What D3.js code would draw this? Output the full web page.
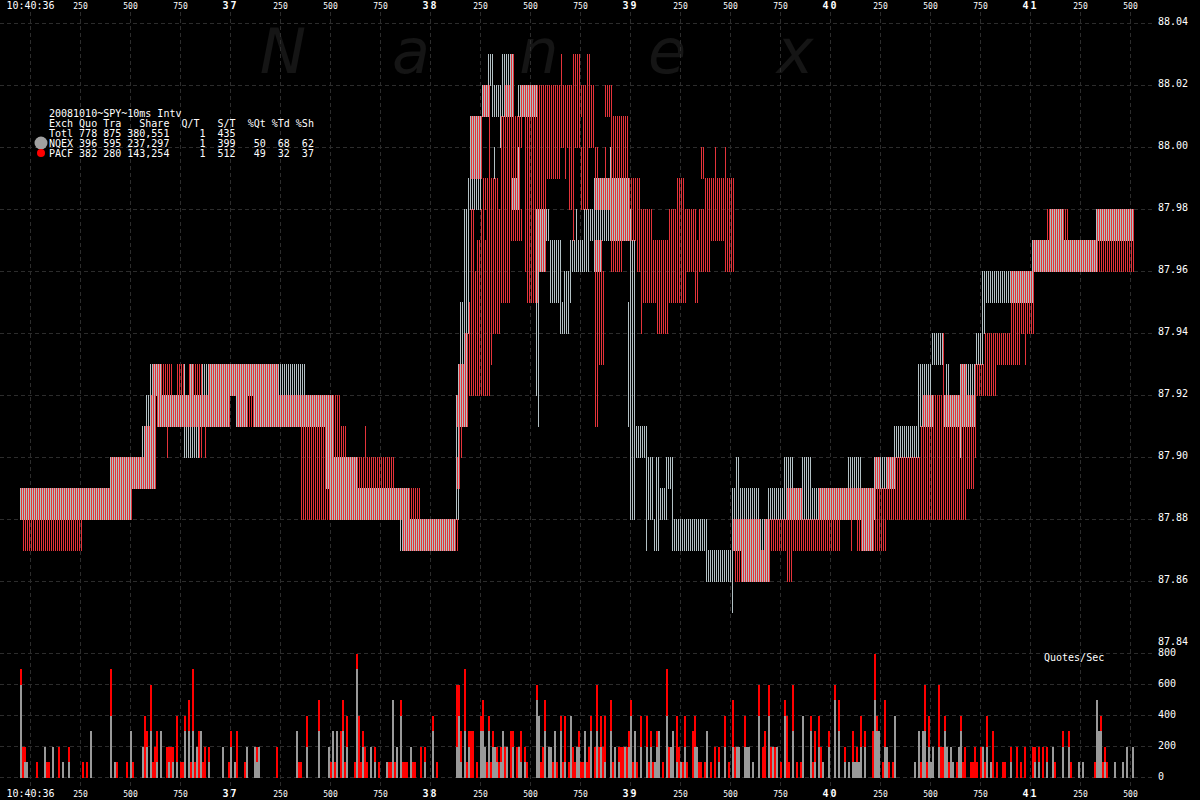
<!DOCTYPE html>
<html><head><meta charset="utf-8">
<script src="https://cdn.jsdelivr.net/npm/d3@7"></script>
<style>
html,body{margin:0;padding:0;background:#000;overflow:hidden}
svg{display:block}
text{font-family:"DejaVu Sans Mono",monospace;fill:#fff}
</style></head><body>
<script>
// ---- data ----------------------------------------------------------------
// quote ranges: [first 10ms bin, end bin, low price, high price]; bin 15 = 10:40:36.000
const nqexRanges=[[10,66,87.88,87.89],[55,78,87.89,87.90],[71,78,87.90,87.91],[73,78,87.91,87.92],[75,81,87.92,87.93],[92,93,87.92,87.93],[95,97,87.92,87.93],[101,153,87.92,87.93],[79,115,87.91,87.92],[118,124,87.91,87.92],[127,167,87.91,87.92],[92,100,87.90,87.91],[163,167,87.90,87.91],[163,179,87.89,87.90],[165,205,87.88,87.89],[200,228,87.87,87.88],[228,230,87.88,87.92],[228,234,87.91,87.92],[229,232,87.92,87.93],[230,232,87.93,87.95],[232,234,87.92,87.98],[232,235,87.94,87.98],[234,241,87.98,87.99],[235,241,87.99,88.01],[241,245,88.01,88.02],[247,248,87.99,88.00],[244,247,88.02,88.03],[251,257,88.02,88.03],[246,252,88.01,88.02],[252,257,88.01,88.02],[250,251,88.00,88.01],[256,260,87.98,87.99],[259,260,87.99,88.00],[259,269,88.01,88.02],[268,275,87.97,87.98],[268,273,87.96,87.98],[268,269,87.92,87.96],[269,270,87.91,87.96],[275,281,87.95,87.97],[282,286,87.95,87.96],[280,285,87.94,87.95],[285,295,87.96,87.97],[288,289,87.97,87.98],[292,316,87.97,87.98],[297,315,87.98,87.99],[297,301,87.96,87.97],[305,306,87.99,88.00],[315,318,87.88,87.97],[314,315,87.91,87.95],[318,324,87.90,87.91],[323,327,87.88,87.90],[323,324,87.87,87.88],[328,330,87.88,87.90],[327,330,87.87,87.88],[330,334,87.88,87.89],[333,337,87.89,87.90],[336,337,87.88,87.89],[336,354,87.87,87.88],[353,367,87.86,87.87],[366,367,87.85,87.87],[366,380,87.88,87.89],[368,370,87.89,87.90],[366,380,87.87,87.88],[371,385,87.86,87.87],[381,383,87.87,87.88],[384,385,87.88,87.89],[382,385,87.87,87.88],[380,384,87.86,87.88],[384,394,87.88,87.89],[393,401,87.88,87.89],[400,410,87.88,87.89],[409,438,87.88,87.89],[392,397,87.89,87.90],[401,406,87.89,87.90],[424,431,87.89,87.90],[431,437,87.87,87.88],[437,448,87.89,87.90],[447,460,87.90,87.91],[459,466,87.92,87.93],[459,467,87.91,87.92],[472,488,87.91,87.92],[480,481,87.90,87.91],[466,472,87.93,87.94],[473,475,87.92,87.93],[480,488,87.92,87.93],[488,492,87.93,87.94],[491,493,87.94,87.95],[491,517,87.95,87.96],[516,549,87.96,87.97],[548,567,87.97,87.98],[525,532,87.97,87.98]];
const pacfRanges=[[10,66,87.88,87.89],[11,41,87.87,87.88],[55,78,87.89,87.90],[72,78,87.90,87.91],[75,78,87.91,87.92],[76,81,87.92,87.93],[81,86,87.92,87.93],[88,92,87.92,87.93],[94,101,87.92,87.93],[104,139,87.92,87.93],[78,80,87.91,87.92],[79,115,87.91,87.92],[118,124,87.91,87.92],[123,128,87.91,87.92],[127,170,87.91,87.92],[83,84,87.90,87.91],[99,101,87.90,87.91],[102,103,87.90,87.91],[150,167,87.90,87.91],[166,173,87.90,87.91],[182,183,87.90,87.91],[150,163,87.89,87.90],[163,197,87.89,87.90],[150,165,87.88,87.89],[165,210,87.88,87.89],[201,229,87.87,87.88],[228,230,87.89,87.90],[229,230,87.89,87.93],[228,234,87.91,87.92],[229,232,87.92,87.93],[230,231,87.90,87.91],[232,245,87.92,87.94],[245,246,87.93,87.94],[234,250,87.94,87.95],[235,255,87.95,87.96],[238,255,87.96,87.97],[235,237,87.96,87.98],[240,242,87.97,87.98],[243,261,87.97,87.98],[235,241,87.99,88.01],[241,245,88.01,88.02],[241,245,87.98,87.99],[244,245,87.99,88.01],[245,249,87.98,87.99],[255,257,88.02,88.03],[252,257,88.01,88.02],[250,261,88.00,88.01],[250,260,87.98,88.00],[262,269,87.98,88.01],[260,269,88.01,88.02],[269,297,88.01,88.02],[269,290,88.00,88.01],[291,297,88.00,88.01],[269,280,87.99,88.00],[282,283,87.99,88.00],[284,287,87.98,88.00],[290,294,87.98,88.00],[293,294,87.98,87.99],[269,273,87.98,87.99],[280,281,88.02,88.03],[286,290,88.02,88.03],[293,295,88.02,88.03],[302,306,88.01,88.02],[305,314,87.99,88.01],[297,299,87.99,88.00],[302,303,87.99,88.00],[297,320,87.98,87.99],[306,326,87.97,87.98],[334,347,87.97,87.98],[349,367,87.97,87.98],[338,342,87.98,87.99],[350,352,87.99,88.00],[357,358,87.99,88.00],[362,363,87.99,88.00],[352,367,87.98,87.99],[268,273,87.97,87.98],[262,269,87.96,87.98],[268,273,87.96,87.98],[263,269,87.95,87.96],[286,287,87.97,87.98],[297,301,87.96,87.97],[297,302,87.93,87.96],[297,299,87.91,87.93],[305,311,87.96,87.98],[318,343,87.96,87.97],[320,343,87.95,87.96],[320,321,87.94,87.95],[328,334,87.94,87.95],[334,348,87.96,87.98],[347,349,87.95,87.96],[347,355,87.96,87.97],[362,367,87.96,87.97],[366,380,87.87,87.88],[367,385,87.86,87.87],[382,385,87.87,87.88],[380,384,87.86,87.87],[384,385,87.86,87.87],[384,420,87.87,87.88],[393,396,87.86,87.87],[393,401,87.88,87.89],[409,438,87.88,87.89],[425,426,87.87,87.88],[428,443,87.87,87.88],[437,440,87.89,87.90],[443,448,87.89,87.90],[437,483,87.88,87.89],[447,487,87.89,87.90],[460,488,87.90,87.91],[461,488,87.91,87.92],[471,472,87.92,87.93],[471,472,87.93,87.94],[480,483,87.92,87.93],[487,498,87.92,87.93],[492,510,87.93,87.94],[512,513,87.93,87.94],[505,517,87.95,87.96],[505,517,87.94,87.95],[516,567,87.96,87.97],[548,567,87.97,87.98],[523,534,87.97,87.98]];
// quotes/sec per 10ms bin: [bin, NQEX, PACF]
const quoteRates=[[10,600,100],[11,0,200],[12,100,100],[13,100,0],[18,0,100],[22,200,0],[23,0,100],[24,0,100],[26,200,0],[29,0,200],[31,100,0],[34,100,100],[41,0,100],[43,0,100],[45,300,0],[55,400,300],[57,100,0],[58,0,100],[63,0,100],[65,300,0],[66,0,100],[71,200,0],[72,0,400],[73,200,100],[75,300,300],[76,0,100],[77,0,200],[78,100,200],[80,300,0],[83,0,200],[84,100,100],[85,0,200],[86,100,100],[88,100,300],[90,0,100],[91,0,100],[92,300,100],[94,300,200],[95,0,100],[96,300,400],[97,0,100],[98,200,0],[99,0,300],[100,300,0],[101,0,100],[102,0,200],[104,100,100],[111,200,0],[114,0,100],[115,200,100],[117,100,0],[118,0,300],[122,0,100],[123,200,0],[127,200,0],[128,100,100],[129,200,0],[138,0,200],[148,300,0],[149,0,100],[150,0,100],[153,200,200],[159,300,200],[164,200,0],[165,0,100],[166,300,0],[167,0,100],[168,300,0],[170,0,300],[171,300,200],[172,0,100],[173,200,200],[177,0,100],[178,700,100],[179,0,400],[180,0,100],[181,200,100],[182,0,200],[183,0,100],[185,200,0],[187,100,100],[189,0,100],[193,100,0],[194,0,100],[195,0,100],[196,500,0],[197,0,100],[198,200,0],[200,400,100],[201,0,100],[202,0,100],[203,0,100],[205,200,0],[206,0,100],[207,0,100],[210,0,200],[212,100,100],[216,300,100],[218,0,100],[228,200,400],[229,400,200],[230,100,200],[232,300,400],[233,0,100],[234,200,100],[235,0,300],[236,0,300],[238,0,100],[240,300,100],[241,300,200],[242,200,0],[243,0,100],[244,300,100],[245,0,100],[246,200,100],[247,200,0],[248,100,100],[249,0,100],[250,100,100],[251,300,0],[252,0,200],[253,200,0],[255,0,300],[256,200,100],[258,0,200],[259,200,0],[260,100,200],[262,100,100],[263,0,100],[268,500,100],[269,400,0],[270,0,100],[271,0,200],[272,300,200],[274,200,0],[275,200,0],[276,0,100],[277,300,0],[278,0,100],[280,300,100],[281,0,100],[282,100,300],[284,0,100],[285,400,0],[286,0,200],[287,0,100],[288,200,0],[289,200,100],[290,0,100],[291,0,100],[292,300,0],[293,0,100],[294,0,200],[295,300,100],[297,0,200],[298,300,300],[299,0,200],[300,200,200],[301,0,200],[302,100,300],[305,300,200],[306,0,100],[307,200,0],[309,100,100],[310,0,200],[311,0,200],[312,200,0],[313,0,200],[314,200,100],[315,400,100],[316,0,100],[317,300,0],[318,0,100],[320,200,200],[323,200,200],[324,0,100],[325,200,100],[326,0,100],[327,100,0],[328,200,100],[329,300,0],[331,0,100],[333,400,300],[334,0,200],[335,200,0],[336,300,0],[338,100,300],[339,0,200],[340,100,0],[341,0,100],[342,200,200],[343,0,100],[346,0,300],[347,200,200],[348,200,0],[349,0,100],[350,0,100],[352,0,100],[353,300,0],[355,0,100],[357,0,200],[359,100,100],[362,200,200],[364,0,100],[366,200,300],[367,0,200],[368,200,0],[369,200,0],[372,200,200],[373,200,0],[374,200,0],[376,100,0],[379,400,200],[381,0,200],[382,0,300],[384,400,200],[385,0,200],[386,200,0],[387,0,200],[388,200,0],[390,0,100],[392,400,100],[393,0,400],[394,0,100],[396,300,300],[398,0,100],[400,0,100],[401,400,0],[405,300,100],[406,0,100],[407,100,200],[409,200,200],[410,0,200],[411,100,0],[414,200,100],[417,500,100],[419,300,200],[422,100,100],[424,100,0],[426,100,200],[427,100,0],[428,100,100],[429,100,0],[430,200,200],[432,200,100],[436,0,300],[437,500,300],[438,300,100],[439,300,0],[441,0,100],[442,200,300],[443,200,0],[444,0,100],[446,0,100],[447,400,0],[457,100,0],[459,300,0],[460,0,100],[461,300,0],[462,300,300],[463,0,100],[464,200,200],[465,100,0],[466,200,0],[469,200,400],[470,0,200],[471,0,200],[472,300,100],[473,200,0],[474,0,100],[475,200,0],[476,100,0],[478,0,100],[479,200,0],[480,300,100],[481,0,100],[482,0,200],[485,0,100],[486,0,100],[487,0,200],[488,0,100],[490,0,200],[491,200,0],[492,0,100],[493,200,200],[495,100,0],[496,0,300],[498,0,100],[501,0,100],[502,0,100],[505,100,100],[508,0,200],[510,0,100],[512,0,200],[516,0,200],[517,100,100],[519,100,100],[521,0,200],[523,100,100],[526,200,0],[527,0,100],[531,200,100],[534,200,100],[535,0,100],[539,100,0],[541,100,0],[547,0,100],[548,500,0],[549,300,0],[550,300,100],[551,0,100],[552,100,100],[553,0,100],[557,100,0],[561,100,0],[563,200,0],[566,200,0]];
const priceTicks=[88.04,88.02,88.00,87.98,87.96,87.94,87.92,87.90,87.88,87.86,87.84];
const rateTicks=[800,600,400,200,0];
const timeTicks=["10:40:36","250","500","750","37","250","500","750","38","250","500","750","39","250","500","750","40","250","500","750","41","250","500"];
const watermark=["N","a","n","e","x"];
const statsRows=["20081010~SPY~10ms Intv","Exch Quo Tra   Share  Q/T   S/T  %Qt %Td %Sh","Totl 778 875 380,551     1  435","NQEX 396 595 237,297     1  399   50  68  62","PACF 382 280 143,254     1  512   49  32  37"];

// ---- scales ---------------------------------------------------------------
const msPerBin=10, firstBin=15;
const binMs=b=>(b-firstBin)*msPerBin;
const x=d3.scaleLinear().domain([0,5500]).range([30,1130]);
const price=d3.scaleLinear().domain([87.84,88.04]).range([643.5,23.5]);
const rate=d3.scaleLinear().domain([0,800]).range([777.5,653.5]);
const colors={gray:"#b2c0c4",red:"#e4333a",barGray:"#999999",barRed:"#ff0000",grid:"#2c2c2c"};

const svg=d3.select("body").append("svg").attr("width",1200).attr("height",800).style("background","#000");

// watermark
svg.append("g").selectAll("text").data(watermark).join("text")
  .attr("x",(d,i)=>x(1265+i*640))
  .attr("y",73)
  .attr("text-anchor","middle")
  .style("font-family",'"DejaVu Sans",sans-serif').style("font-style","italic")
  .style("font-size","62px").style("fill","#151515").text(d=>d);

// grid
const grid=svg.append("g").attr("shape-rendering","crispEdges").attr("stroke",colors.grid).attr("stroke-dasharray","4 3");
grid.selectAll(".v").data(d3.range(0,5501,250)).join("line").attr("class","v")
  .attr("x1",d=>x(d)+.5).attr("x2",d=>x(d)+.5).attr("y1",12).attr("y2",798);
grid.selectAll(".h").data(priceTicks.filter(p=>p>87.85)).join("line").attr("class","h")
  .attr("x1",0).attr("x2",1155).attr("y1",d=>price(d)).attr("y2",d=>price(d));
grid.selectAll(".r").data(rateTicks).join("line").attr("class","r")
  .attr("x1",0).attr("x2",1155).attr("y1",d=>rate(d)).attr("y2",d=>rate(d));

// quote-range stripes: one vertical hairline per 10ms bin per exchange
function stripes(ranges,color,offset){
  const lines=ranges.flatMap(([b0,b1,lo,hi])=>d3.range(b0,b1).map(b=>({b,lo,hi})));
  svg.append("g").attr("shape-rendering","crispEdges").selectAll("rect").data(lines).join("rect")
    .attr("x",d=>x(binMs(d.b))+offset).attr("width",1)
    .attr("y",d=>Math.floor(price(d.hi)))
    .attr("height",d=>Math.ceil(price(d.lo))-Math.floor(price(d.hi)))
    .attr("fill",color);
}
stripes(nqexRanges,colors.gray,0);
stripes(pacfRanges,colors.red,1);

// quotes/sec bars, stacked
const bars=svg.append("g").attr("shape-rendering","crispEdges");
const barW=x(msPerBin)-x(0);
bars.selectAll(".g").data(quoteRates.filter(d=>d[1]>0)).join("rect").attr("class","g")
  .attr("x",d=>x(binMs(d[0]))).attr("width",barW)
  .attr("y",d=>rate(d[1])).attr("height",d=>rate(0)-rate(d[1])+.5).attr("fill",colors.barGray);
bars.selectAll(".p").data(quoteRates.filter(d=>d[2]>0)).join("rect").attr("class","p")
  .attr("x",d=>x(binMs(d[0]))).attr("width",barW)
  .attr("y",d=>rate(d[1]+d[2])).attr("height",d=>rate(d[1])-rate(d[1]+d[2])+(d[1]?0:.5)).attr("fill",colors.barRed);

// time axes
const tickMs=timeTicks.map((_,i)=>i*250);
function timeAxis(gen,yPos){
  const g=svg.append("g").attr("transform",`translate(0,${yPos})`)
    .call(gen.scale(x).tickValues(tickMs).tickSize(0).tickPadding(0).tickFormat((d,i)=>timeTicks[i]));
  g.select(".domain").remove();
  g.selectAll("text").attr("dy",0).attr("y",0)
    .style("font-size",(d,i)=>i===0?"10px":timeTicks[i].length===2?"10px":"8px")
    .style("font-weight",(d,i)=>timeTicks[i].length===2?"bold":"normal")
    .style("letter-spacing",(d,i)=>timeTicks[i].length===2?"2px":"0");
}
timeAxis(d3.axisBottom(),9);
timeAxis(d3.axisBottom(),797);

// right axes
function valueAxis(scale,ticks,fmt,dy){
  const g=svg.append("g").attr("transform","translate(1158,0)")
    .call(d3.axisRight(scale).tickValues(ticks).tickSize(0).tickPadding(0).tickFormat(fmt));
  g.select(".domain").remove();
  g.selectAll("text").attr("dy",0).attr("y",dy).style("font-size","10px").attr("text-anchor","start");
}
valueAxis(price,priceTicks,d3.format(".2f"),0.5);
valueAxis(rate,rateTicks,d3.format("d"),1.5);

svg.append("text").attr("x",1044).attr("y",661).style("font-size","10px").text("Quotes/Sec");

// stats block
svg.append("g").selectAll("text").data(statsRows).join("text")
  .attr("x",49).attr("y",(d,i)=>117+i*10).attr("xml:space","preserve")
  .style("white-space","pre").style("font-size","10px").text(d=>d);
svg.append("circle").attr("cx",41).attr("cy",143).attr("r",6.5).attr("fill","#a0a0a0");
svg.append("circle").attr("cx",41).attr("cy",153).attr("r",4).attr("fill","#ff0000");
</script>
</body></html>
